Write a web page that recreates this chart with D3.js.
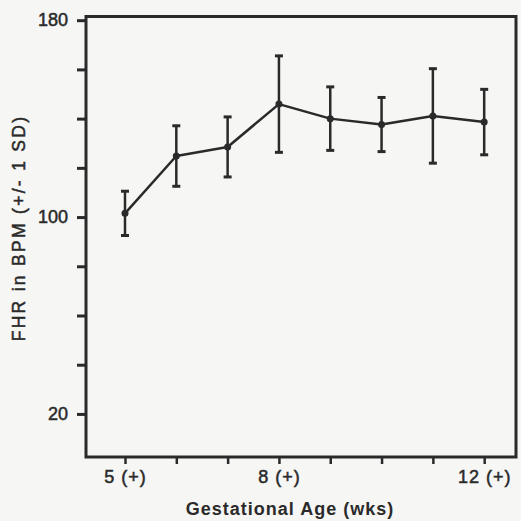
<!DOCTYPE html>
<html>
<head>
<meta charset="utf-8">
<script src="https://cdn.jsdelivr.net/npm/d3@7"></script>
<style>
  html, body { margin: 0; padding: 0; background: #f6f6f4; }
  svg { display: block; }
  text { font-family: "Liberation Sans", Arial, Helvetica, sans-serif; fill: #2a2a2a; }
  .heavy { stroke: #2a2a2a; stroke-width: 0.5px; }
</style>
</head>
<body>
<svg id="chart" width="521" height="521"></svg>
<script>
// Gestational age (weeks) and fetal heart rate, mean +/- 1 SD
const weeks = [5, 6, 7, 8, 9, 10, 11, 12];
const meanFHR = [101.5, 124.8, 128.5, 145.9, 140.0, 137.6, 141.1, 138.6];
const sdFHR = [9.0, 12.3, 12.2, 19.6, 12.9, 11.0, 19.2, 13.3];

const yTicks = [20, 40, 60, 80, 100, 120, 140, 160, 180];
const yLabelled = [20, 100, 180];
const xLabelled = [5, 8, 12];

const ink = "#2a2a2a";
const svg = d3.select("#chart");

const plot = { left: 86, right: 516, top: 16.5, bottom: 457 };

const x = d3.scaleLinear().domain([4.24, 12.62]).range([plot.left, plot.right]);
const y = d3.scaleLinear().domain([2.5, 181.5]).range([plot.bottom, plot.top]);

// Y axis with ticks every 20 BPM, labels at 20 / 100 / 180
const yAxis = svg.append("g")
  .attr("transform", `translate(${plot.left},0)`)
  .call(d3.axisLeft(y)
    .tickValues(yTicks)
    .tickSize(9)
    .tickPadding(9)
    .tickFormat(d => yLabelled.includes(d) ? d : ""));
yAxis.select(".domain").remove();
yAxis.selectAll(".tick line").attr("stroke", ink).attr("stroke-width", 3);
yAxis.selectAll(".tick text")
  .attr("class", "heavy")
  .style("font-size", "18px").attr("fill", ink);

// X axis with weekly ticks
const xAxis = svg.append("g")
  .attr("transform", `translate(0,${plot.bottom})`)
  .call(d3.axisBottom(x)
    .tickValues(weeks)
    .tickSize(7)
    .tickPadding(6)
    .tickFormat(d => xLabelled.includes(d) ? `${d} (+)` : ""));
xAxis.select(".domain").remove();
xAxis.selectAll(".tick line").attr("stroke", ink).attr("stroke-width", 2.5);
xAxis.selectAll(".tick text")
  .attr("class", "heavy")
  .style("font-size", "18px").style("letter-spacing", "1px").attr("fill", ink);

// Plot frame
svg.append("rect")
  .attr("x", plot.left).attr("y", plot.top)
  .attr("width", plot.right - plot.left).attr("height", plot.bottom - plot.top)
  .attr("fill", "none").attr("stroke", ink).attr("stroke-width", 3);

// Axis titles
svg.append("text")
  .attr("x", 290).attr("y", 515)
  .attr("text-anchor", "middle")
  .style("font-size", "18px").style("font-weight", "bold").style("letter-spacing", "1px")
  .text("Gestational Age (wks)");

svg.append("text")
  .attr("class", "heavy")
  .attr("transform", "translate(25,228) rotate(-90)")
  .attr("text-anchor", "middle")
  .style("font-size", "17.5px").style("letter-spacing", "2.3px")
  .text("FHR in BPM (+/- 1 SD)");

const data = weeks.map((w, i) => ({ w, m: meanFHR[i], sd: sdFHR[i] }));

// Error bars
const bars = svg.append("g").attr("stroke", ink);
bars.selectAll("line.v").data(data).join("line")
  .attr("class", "v")
  .attr("x1", d => x(d.w)).attr("x2", d => x(d.w))
  .attr("y1", d => y(d.m + d.sd)).attr("y2", d => y(d.m - d.sd))
  .attr("stroke-width", 2.5);
bars.selectAll("line.cap-hi").data(data).join("line")
  .attr("class", "cap-hi")
  .attr("x1", d => x(d.w) - 4).attr("x2", d => x(d.w) + 4)
  .attr("y1", d => y(d.m + d.sd)).attr("y2", d => y(d.m + d.sd))
  .attr("stroke-width", 3);
bars.selectAll("line.cap-lo").data(data).join("line")
  .attr("class", "cap-lo")
  .attr("x1", d => x(d.w) - 4).attr("x2", d => x(d.w) + 4)
  .attr("y1", d => y(d.m - d.sd)).attr("y2", d => y(d.m - d.sd))
  .attr("stroke-width", 3);

// Mean line and points
svg.append("path")
  .datum(data)
  .attr("fill", "none").attr("stroke", ink).attr("stroke-width", 2.5)
  .attr("stroke-linejoin", "round")
  .attr("d", d3.line().x(d => x(d.w)).y(d => y(d.m)));

svg.append("g").selectAll("circle").data(data).join("circle")
  .attr("cx", d => x(d.w)).attr("cy", d => y(d.m)).attr("r", 3.5)
  .attr("fill", ink);
</script>
</body>
</html>
